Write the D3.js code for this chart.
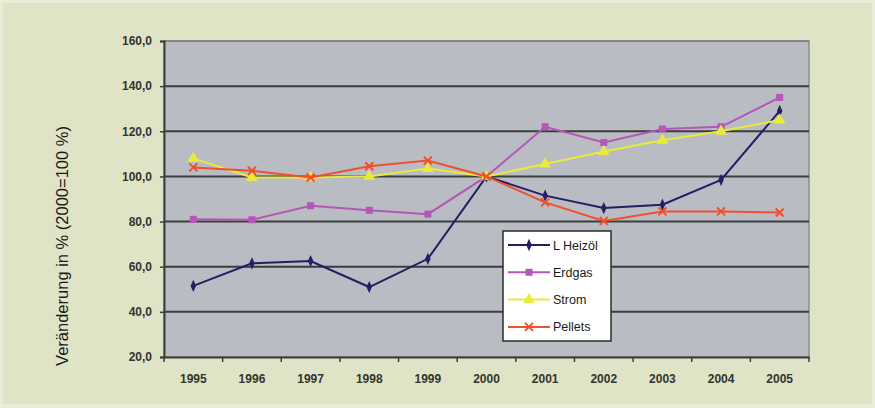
<!DOCTYPE html>
<html>
<head>
<meta charset="utf-8">
<script src="https://cdn.jsdelivr.net/npm/d3@7"></script>
<style>
  html, body { margin: 0; padding: 0; background: #e8ebd6; }
  svg { display: block; font-family: "Liberation Sans", Arial, sans-serif; }
</style>
</head>
<body>
<div id="chart"></div>
<script>
// Werte (2000 = 100 %)
const years = ['1995', '1996', '1997', '1998', '1999', '2000', '2001', '2002', '2003', '2004', '2005'];
const heizoel = [51.5, 61.5, 62.5, 51, 63.5, 100, 91.5, 86, 87.5, 98.5, 129];
const erdgas = [81, 80.8, 87, 85, 83.3, 100, 122, 115, 121, 122, 135];
const strom = [108, 99.5, 99.5, 100, 103.5, 100, 105.5, 111, 116, 120, 125];
const pellets = [104, 102.5, 99.5, 104.5, 107, 100, 88.5, 80.3, 84.5, 84.5, 84];
const yTicks = [20, 40, 60, 80, 100, 120, 140, 160];

const series = [
  { name: 'L Heizöl', values: heizoel, color: '#241f63', marker: 'diamond' },
  { name: 'Erdgas', values: erdgas, color: '#b556b8', marker: 'square' },
  { name: 'Strom', values: strom, color: '#eaea3c', marker: 'triangle' },
  { name: 'Pellets', values: pellets, color: '#f0502c', marker: 'cross' },
];

const width = 875, height = 408;
const plot = { left: 164, right: 809, top: 41, bottom: 357 };

const svg = d3.select('#chart').append('svg')
  .attr('width', width)
  .attr('height', height);

// Hintergrund
svg.append('rect')
  .attr('width', width).attr('height', height)
  .attr('fill', '#e9ecd7');
svg.append('rect')
  .attr('x', 3).attr('y', 3)
  .attr('width', width - 6).attr('height', height - 7)
  .attr('fill', '#dfe4c6');

const x = d3.scaleBand().domain(years).range([plot.left, plot.right]);
const y = d3.scaleLinear().domain([20, 160]).range([plot.bottom, plot.top]);

// Plotfläche
svg.append('rect')
  .attr('x', plot.left).attr('y', plot.top)
  .attr('width', plot.right - plot.left).attr('height', plot.bottom - plot.top)
  .attr('fill', '#b9bcc3')
  .attr('stroke', '#8b9088')
  .attr('stroke-width', 1.5);

// Gitterlinien
svg.append('g')
  .selectAll('line')
  .data(yTicks.filter(t => t > 20))
  .join('line')
  .attr('x1', plot.left).attr('x2', plot.right)
  .attr('y1', d => y(d)).attr('y2', d => y(d))
  .attr('stroke', '#3b3e3c')
  .attr('stroke-width', d => d === 160 ? 1 : 2)
  .attr('stroke-opacity', d => d === 160 ? 0.5 : 1);

// Y-Achse
const yAxis = svg.append('g')
  .attr('transform', `translate(${plot.left},0)`)
  .call(d3.axisLeft(y).tickValues(yTicks).tickSize(4).tickPadding(8)
    .tickFormat(d => d3.format('.1f')(d).replace('.', ',')));
yAxis.select('.domain').attr('stroke', '#3b3e3c').attr('stroke-width', 2);
yAxis.selectAll('line').attr('stroke', '#3b3e3c').attr('stroke-width', 1.5);
yAxis.selectAll('text')
  .attr('fill', '#33352f')
  .attr('font-size', 12)
  .attr('font-weight', 'bold')
  .attr('font-family', '"Liberation Sans", Arial, sans-serif');

// X-Achse
const xAxis = svg.append('g')
  .attr('transform', `translate(0,${plot.bottom})`)
  .call(d3.axisBottom(x).tickSize(0).tickPadding(17));
xAxis.select('.domain').attr('stroke', '#3b3e3c').attr('stroke-width', 2);
xAxis.selectAll('text')
  .attr('fill', '#33352f')
  .attr('font-size', 12)
  .attr('font-weight', 'bold')
  .attr('font-family', '"Liberation Sans", Arial, sans-serif');

// Tick-Striche zwischen Kategorien
svg.append('g')
  .selectAll('line')
  .data(years.concat(['end']))
  .join('line')
  .attr('x1', (d, i) => plot.left + i * x.step())
  .attr('x2', (d, i) => plot.left + i * x.step())
  .attr('y1', plot.bottom).attr('y2', plot.bottom + 5)
  .attr('stroke', '#3b3e3c')
  .attr('stroke-width', 1.5);

// Achsentitel
svg.append('text')
  .attr('transform', 'translate(68, 246) rotate(-90)')
  .attr('text-anchor', 'middle')
  .attr('font-size', 16.5)
  .attr('fill', '#1a1a1a')
  .attr('font-family', '"Liberation Sans", Arial, sans-serif')
  .text('Veränderung in % (2000=100 %)');

const cx = d => x(d) + x.bandwidth() / 2;

function drawMarker(g, type, color) {
  if (type === 'diamond') {
    g.append('path').attr('d', d3.symbol(d3.symbolDiamond, 36)()).attr('fill', color)
      .attr('transform', 'scale(0.85,1.1)');
  } else if (type === 'square') {
    g.append('rect').attr('x', -3.5).attr('y', -3.5).attr('width', 7).attr('height', 7)
      .attr('fill', color);
  } else if (type === 'triangle') {
    g.append('path').attr('d', d3.symbol(d3.symbolTriangle, 60)()).attr('fill', color);
  } else {
    g.append('path').attr('d', 'M-4,-4L4,4M-4,4L4,-4')
      .attr('stroke', color).attr('stroke-width', 2).attr('fill', 'none');
  }
}

const line = d3.line()
  .x((d, i) => cx(years[i]))
  .y(d => y(d));

// Reihenfolge: Heizöl unten, Pellets oben
for (const s of series) {
  const g = svg.append('g');
  g.append('path')
    .attr('d', line(s.values))
    .attr('fill', 'none')
    .attr('stroke', s.color)
    .attr('stroke-width', 2);
  g.selectAll('g.m')
    .data(s.values)
    .join('g')
    .attr('class', 'm')
    .attr('transform', (d, i) => `translate(${cx(years[i])},${y(d)})`)
    .each(function () { drawMarker(d3.select(this), s.marker, s.color); });
}

// Legende
const legend = svg.append('g').attr('transform', 'translate(503,231)');
legend.append('rect')
  .attr('width', 108).attr('height', 110)
  .attr('fill', '#ffffff')
  .attr('stroke', '#2b2b2b')
  .attr('stroke-width', 1.5);
series.forEach((s, i) => {
  const row = legend.append('g').attr('transform', `translate(0,${14 + i * 27.3})`);
  row.append('line')
    .attr('x1', 5).attr('x2', 47)
    .attr('stroke', s.color).attr('stroke-width', 2);
  const m = row.append('g').attr('transform', 'translate(26,0)');
  drawMarker(m, s.marker, s.color);
  row.append('text')
    .attr('x', 50).attr('y', 4.5)
    .attr('font-size', 12.5)
    .attr('fill', '#1a1a1a')
    .attr('font-family', '"Liberation Sans", Arial, sans-serif')
    .text(s.name);
});
</script>
</body>
</html>
